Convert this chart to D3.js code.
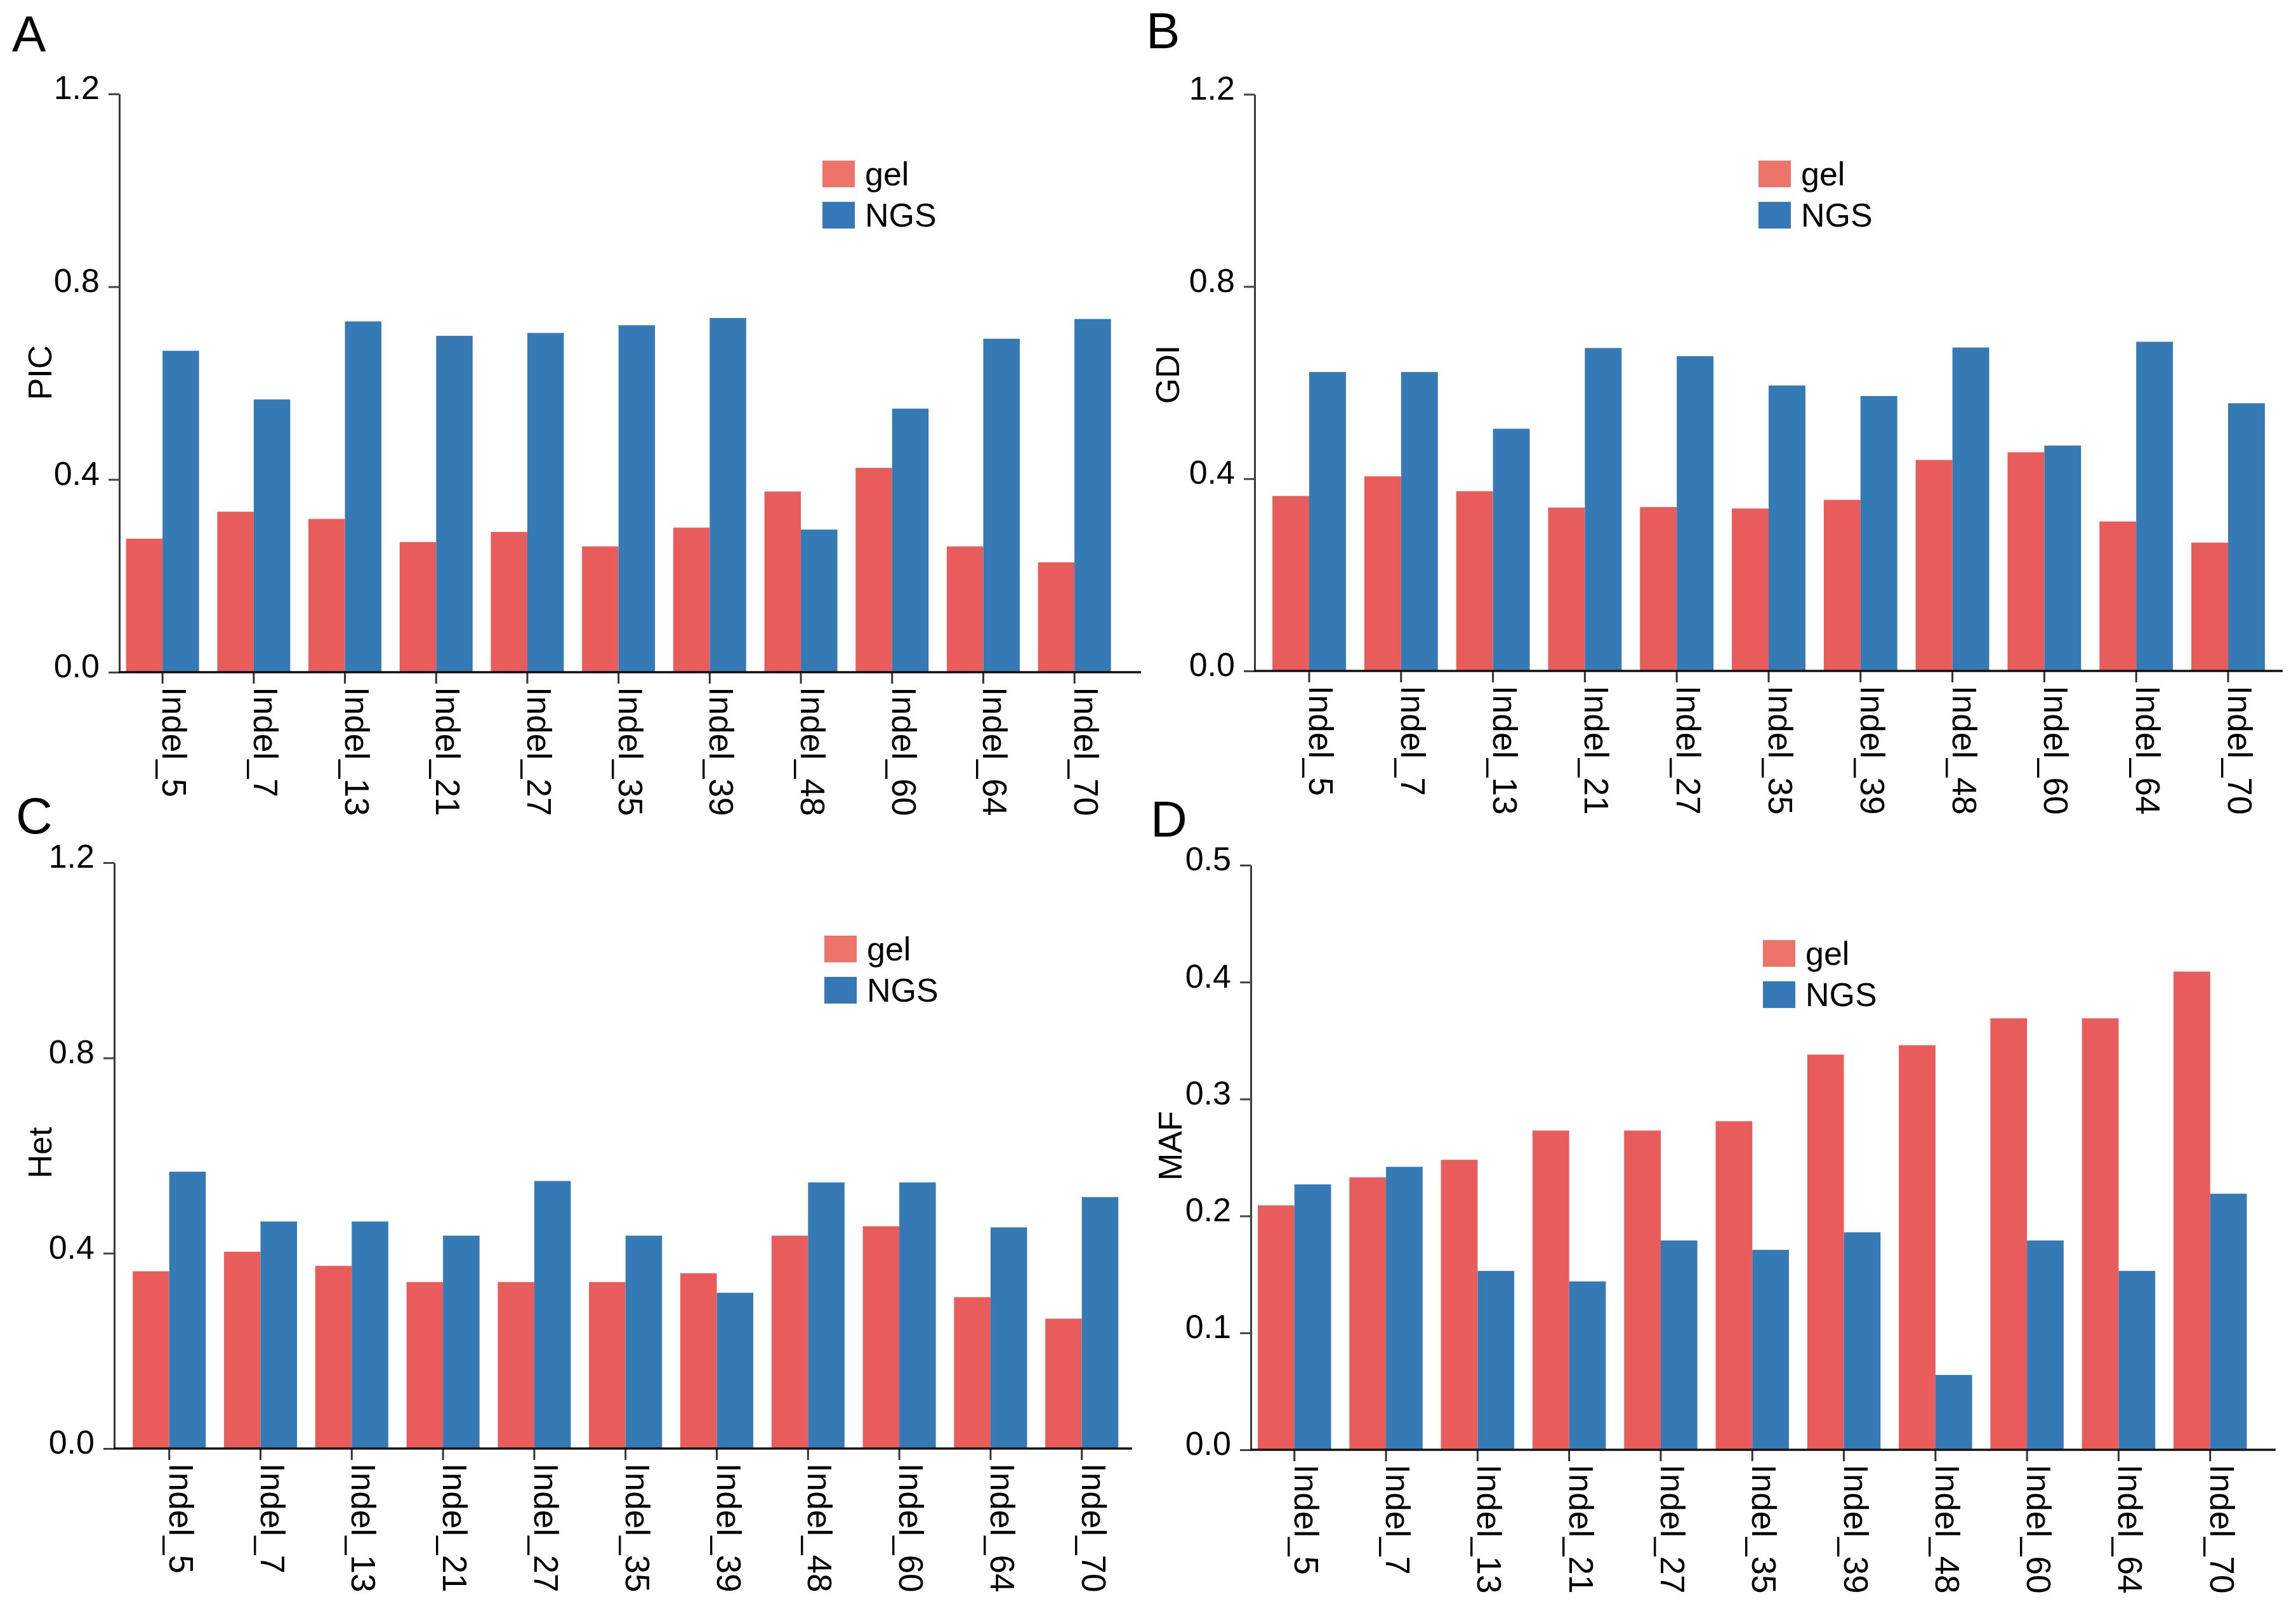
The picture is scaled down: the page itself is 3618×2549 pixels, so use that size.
<!DOCTYPE html>
<html>
<head>
<meta charset="utf-8">
<script src="https://cdn.jsdelivr.net/npm/d3@7"></script>
<style>
  body { margin: 0; background: #fff; }
  text { font-family: "Liberation Sans", Arial, sans-serif; fill: #000; }
</style>
</head>
<body>
<div id="chart"></div>
<script>
// Data
const MARKERS = ["Indel_5", "Indel_7", "Indel_13", "Indel_21", "Indel_27", "Indel_35",
                 "Indel_39", "Indel_48", "Indel_60", "Indel_64", "Indel_70"];
const SERIES = ["gel", "NGS"];

const PIC_GEL = [0.277, 0.333, 0.318, 0.270, 0.291, 0.261, 0.300, 0.375, 0.424, 0.261, 0.228];
const PIC_NGS = [0.667, 0.566, 0.728, 0.698, 0.704, 0.720, 0.735, 0.296, 0.547, 0.692, 0.733];

const GDI_GEL = [0.364, 0.405, 0.374, 0.340, 0.341, 0.338, 0.356, 0.439, 0.455, 0.311, 0.267];
const GDI_NGS = [0.622, 0.622, 0.504, 0.672, 0.655, 0.594, 0.572, 0.673, 0.469, 0.685, 0.557];

const HET_GEL = [0.363, 0.403, 0.374, 0.341, 0.341, 0.341, 0.359, 0.436, 0.455, 0.310, 0.266];
const HET_NGS = [0.567, 0.465, 0.465, 0.436, 0.548, 0.436, 0.319, 0.545, 0.545, 0.453, 0.515];

const MAF_GEL = [0.209, 0.233, 0.248, 0.273, 0.273, 0.281, 0.338, 0.346, 0.369, 0.369, 0.409];
const MAF_NGS = [0.227, 0.242, 0.153, 0.144, 0.179, 0.171, 0.186, 0.064, 0.179, 0.153, 0.219];

const TICKS_12 = [0, 0.4, 0.8, 1.2];
const TICKS_05 = [0, 0.1, 0.2, 0.3, 0.4, 0.5];

// Colours
const BAR_COLOR = {gel: "#E85C5B", NGS: "#367AB5"};
const KEY_COLOR = {gel: "#EE7369", NGS: "#3478B7"};

const WIDTH = 3618;
const HEIGHT = 2549;

const svg = d3.select("#chart")
  .append("svg")
    .attr("width", WIDTH)
    .attr("height", HEIGHT);

// panel layout (pixel positions only)
const PANELS = [
  {letter: "A", title: "PIC", gel: PIC_GEL, ngs: PIC_NGS, max: 1.2, ticks: TICKS_12,
   x0: 188, x1: 1798, band: [184.3, 1765], y: [148, 1059],
   legend: [1296, 253], titlePos: [81, 587], letterPos: [19, 81]},
  {letter: "B", title: "GDI", gel: GDI_GEL, ngs: GDI_NGS, max: 1.2, ticks: TICKS_12,
   x0: 1977, x1: 3597, band: [1990.6, 3583.4], y: [148.5, 1057],
   legend: [2771, 253], titlePos: [1858, 590], letterPos: [1806, 76]},
  {letter: "C", title: "Het", gel: HET_GEL, ngs: HET_NGS, max: 1.2, ticks: TICKS_12,
   x0: 180, x1: 1784, band: [194.8, 1776.6], y: [1359, 2282],
   legend: [1299, 1474], titlePos: [81, 1816], letterPos: [25, 1313]},
  {letter: "D", title: "MAF", gel: MAF_GEL, ngs: MAF_NGS, max: 0.5, ticks: TICKS_05,
   x0: 1971, x1: 3586, band: [1967.6, 3554.9], y: [1363, 2284],
   legend: [2778, 1481], titlePos: [1862, 1805], letterPos: [1813, 1318]}
];

function drawPanel(p) {
  const g = svg.append("g").attr("class", "panel-" + p.letter);

  const X_SCALE = d3.scaleBand()
    .domain(MARKERS)
    .range(p.band)
    .paddingInner(0.2)
    .paddingOuter(0.1);

  const X_SUB = d3.scaleBand()
    .domain(SERIES)
    .range([0, X_SCALE.bandwidth()]);

  const Y_SCALE = d3.scaleLinear()
    .domain([0, p.max])
    .range([p.y[1], p.y[0]]);

  const rows = MARKERS.map((m, i) => ({marker: m, gel: p.gel[i], NGS: p.ngs[i]}));

  // bars
  g.selectAll(".grp")
    .data(rows)
    .enter()
    .append("g")
      .attr("transform", (d) => "translate(" + X_SCALE(d.marker) + ",0)")
    .selectAll("rect")
    .data((d) => SERIES.map((s) => ({key: s, value: d[s]})))
    .enter()
    .append("rect")
      .attr("x", (d) => X_SUB(d.key))
      .attr("width", X_SUB.bandwidth())
      .attr("y", (d) => Y_SCALE(d.value))
      .attr("height", (d) => Y_SCALE(0) - Y_SCALE(d.value))
      .attr("fill", (d) => BAR_COLOR[d.key]);

  // y axis
  const yAxis = g.append("g")
    .attr("transform", "translate(" + p.x0 + ",0)")
    .call(d3.axisLeft(Y_SCALE)
      .tickValues(p.ticks)
      .tickFormat(d3.format(".1f"))
      .tickSize(17)
      .tickSizeOuter(0)
      .tickPadding(14));
  yAxis.select(".domain").attr("stroke", "#3a3a3a").attr("stroke-width", 3);
  yAxis.selectAll(".tick line").attr("stroke", "#444").attr("stroke-width", 3);
  yAxis.selectAll(".tick text")
    .attr("font-size", 52)
    .attr("dy", "0.15em")
    .style("font-family", "'Liberation Sans', Arial, sans-serif")
    .attr("fill", "#000");

  // x axis
  const xAxis = g.append("g")
    .attr("transform", "translate(0," + Y_SCALE(0) + ")")
    .call(d3.axisBottom(X_SCALE).tickSize(18).tickSizeOuter(0));
  xAxis.select(".domain").remove();
  xAxis.selectAll(".tick line").attr("stroke", "#333").attr("stroke-width", 3);
  xAxis.selectAll(".tick text")
    .attr("x", 0)
    .attr("y", 0)
    .attr("dy", 0)
    .attr("transform", "translate(0,23) rotate(90)")
    .attr("text-anchor", "start")
    .attr("font-size", 53)
    .style("font-family", "'Liberation Sans', Arial, sans-serif")
    .attr("fill", "#000");

  g.append("line")
    .attr("x1", p.x0 - 1)
    .attr("x2", p.x1)
    .attr("y1", Y_SCALE(0))
    .attr("y2", Y_SCALE(0))
    .attr("stroke", "#111")
    .attr("stroke-width", 3.5);

  // legend
  const key = g.append("g")
    .attr("transform", "translate(" + p.legend[0] + "," + p.legend[1] + ")");
  SERIES.forEach((s, i) => {
    key.append("rect")
      .attr("x", 0)
      .attr("y", i * 65)
      .attr("width", 51)
      .attr("height", 42)
      .attr("fill", KEY_COLOR[s]);
    key.append("text")
      .attr("x", 67)
      .attr("y", i * 65 + 39)
      .attr("font-size", 52)
      .text(s);
  });

  // axis title
  g.append("text")
    .attr("transform", "translate(" + p.titlePos[0] + "," + p.titlePos[1] + ") rotate(-90)")
    .attr("text-anchor", "middle")
    .attr("font-size", 52)
    .text(p.title);

  // panel letter
  g.append("text")
    .attr("x", p.letterPos[0])
    .attr("y", p.letterPos[1])
    .attr("font-size", 80)
    .text(p.letter);
}

PANELS.forEach(drawPanel);
</script>
</body>
</html>
